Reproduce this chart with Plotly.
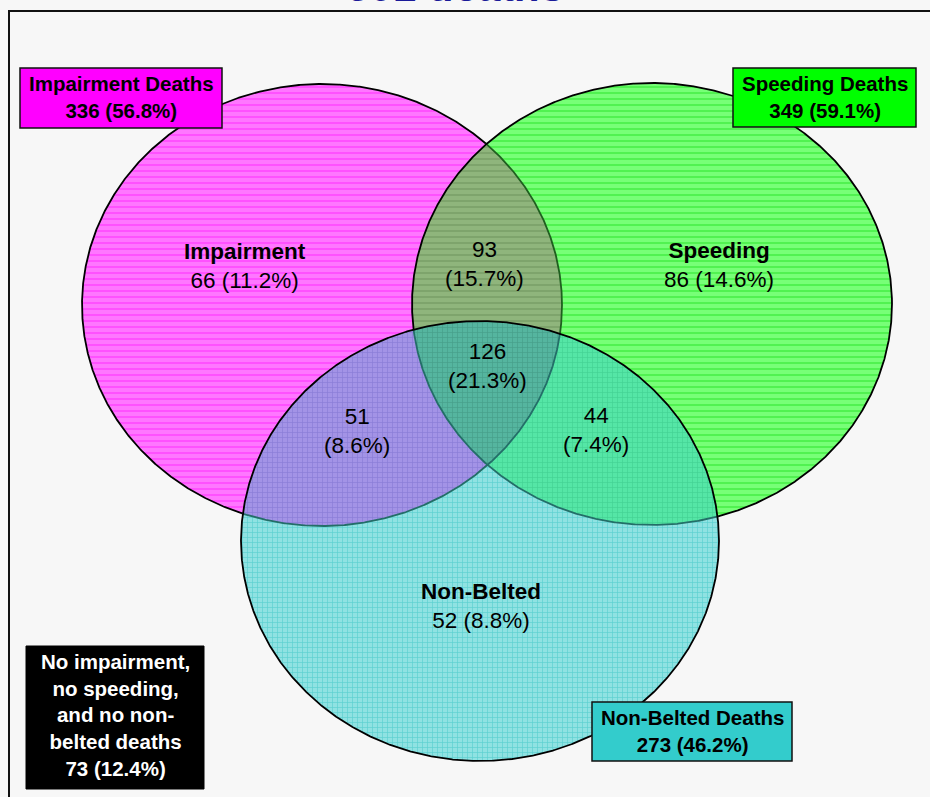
import numpy as np
import plotly.graph_objects as go

# ---------------- data ----------------
total_deaths = 591
set_names = ["Impairment", "Speeding", "Non-Belted"]
set_totals = [336, 349, 273]
set_pcts = [56.8, 59.1, 46.2]

# exclusive regions
only_counts = [66, 86, 52]          # Impairment only, Speeding only, Non-Belted only
only_pcts = [11.2, 14.6, 8.8]
pair_names = ["Impairment & Speeding", "Impairment & Non-Belted", "Speeding & Non-Belted"]
pair_counts = [93, 51, 44]
pair_pcts = [15.7, 8.6, 7.4]
all_count = 126
all_pct = 21.3
none_count = 73
none_pct = 12.4

# ---------------- layout constants (pixels) ----------------
W, H = 930, 797
BG = "#f7f7f7"
ellipses = [  # cx, cy, rx, ry
    (322, 305, 240, 221),
    (652, 304, 240, 221),
    (480, 541, 239, 220),
]
set_bg = ["#ff77ff", "#77ff77", "#8fe2e2"]
set_fg = ["#ff44ff", "#44ee44", "#5cd0d0"]
set_shape = ["-", "-", "+"]
pair_bg = ["#8fb57c", "#a393e6", "#55e6a6"]
pair_fg = ["#789f66", "#8a7cd6", "#44d294"]
all_bg, all_fg = "#55b59f", "#469f8a"
box_fill = ["#ff00ff", "#00ff00", "#33cccc"]
boxes = [(20, 68, 222, 128), (733, 68, 916, 127), (592, 702, 792, 761)]
none_box = (26, 646, 204, 789)
only_label_pos = [(245, 266), (719, 265), (481, 606)]
pair_label_pos = [(484, 264), (357, 431), (596, 430)]
all_label_pos = (487, 366)
FONT = "Arial, Liberation Sans, sans-serif"


def ell_pts(e, n=1440):
    cx, cy, rx, ry = e
    t = np.linspace(0, 2 * np.pi, n, endpoint=False)
    return cx + rx * np.cos(t), cy + ry * np.sin(t)


def inside(x, y, e):
    cx, cy, rx, ry = e
    return ((x - cx) / rx) ** 2 + ((y - cy) / ry) ** 2 <= 1.0


def intersection(idx):
    xs, ys = [], []
    for i in idx:
        x, y = ell_pts(ellipses[i])
        m = np.ones_like(x, dtype=bool)
        for j in idx:
            if j != i:
                m &= inside(x, y, ellipses[j])
        xs.append(x[m]); ys.append(y[m])
    x = np.concatenate(xs); y = np.concatenate(ys)
    a = np.arctan2(y - y.mean(), x - x.mean())
    o = np.argsort(a)
    x, y = x[o], y[o]
    return np.append(x, x[0]), np.append(y, y[0])


fig = go.Figure()


def add_fill(x, y, bg, fg, shape, size):
    fig.add_trace(go.Scatter(
        x=x, y=y, mode="lines", fill="toself", line=dict(width=0, color=bg),
        fillcolor=bg,
        fillpattern=dict(shape=shape, bgcolor=bg, fgcolor=fg, size=size, solidity=0.25, fillmode="replace"),
        hoverinfo="skip", showlegend=False))


# set fills
for i, e in enumerate(ellipses):
    x, y = ell_pts(e)
    add_fill(np.append(x, x[0]), np.append(y, y[0]), set_bg[i], set_fg[i], set_shape[i], 6 if i < 2 else 5)

# pairwise overlaps
pairs = [(0, 1), (0, 2), (1, 2)]
for k, p in enumerate(pairs):
    x, y = intersection(p)
    add_fill(x, y, pair_bg[k], pair_fg[k], "-" if k == 0 else "+", 6 if k == 0 else 5)

# triple overlap
x, y = intersection((0, 1, 2))
add_fill(x, y, all_bg, all_fg, "+", 5)

# outlines: black outside later layers, tinted inside
tints = {None: "#000000", 1: "#1f5f1f", 2: "#236e68"}
for i, e in enumerate(ellipses):
    x, y = ell_pts(e)
    x = np.append(x, x[0]); y = np.append(y, y[0])
    cat = np.array([None] * len(x), dtype=object)
    for j in range(i + 1, 3):
        cat[inside(x, y, ellipses[j])] = j
    for c, col in tints.items():
        m = np.array([cc == c for cc in cat])
        m2 = m | np.roll(m, 1) | np.roll(m, -1)
        xx = np.where(m2, x, np.nan); yy = np.where(m2, y, np.nan)
        if m.any():
            fig.add_trace(go.Scatter(x=xx, y=yy, mode="lines", line=dict(color=col, width=1.8),
                                     connectgaps=False, hoverinfo="skip", showlegend=False))

# frame
fig.add_shape(type="path", path=f"M 9 {H+10} L 9 11 L {W+10} 11", line=dict(color="#111111", width=2), layer="above")

annotations = []
# region labels
for i in range(3):
    annotations.append(dict(x=only_label_pos[i][0], y=only_label_pos[i][1],
                            text=f"<b>{set_names[i]}</b><br>{only_counts[i]} ({only_pcts[i]:.1f}%)",
                            font=dict(size=22.5, color="#000000", family=FONT)))
for k in range(3):
    annotations.append(dict(x=pair_label_pos[k][0], y=pair_label_pos[k][1],
                            text=f"{pair_counts[k]}<br>({pair_pcts[k]:.1f}%)",
                            font=dict(size=22.5, color="#000000", family=FONT)))
annotations.append(dict(x=all_label_pos[0], y=all_label_pos[1],
                        text=f"{all_count}<br>({all_pct:.1f}%)",
                        font=dict(size=22.5, color="#000000", family=FONT)))

# set total boxes
for i in range(3):
    x0, y0, x1, y1 = boxes[i]
    fig.add_shape(type="rect", x0=x0, y0=y0, x1=x1, y1=y1, fillcolor=box_fill[i],
                  line=dict(color="#111111", width=1.5), layer="above")
    annotations.append(dict(x=(x0 + x1) / 2, y=(y0 + y1) / 2 - 1,
                            text=f"<b>{set_names[i]} Deaths<br>{set_totals[i]} ({set_pcts[i]:.1f}%)</b>",
                            font=dict(size=20.5, color="#000000", family=FONT)))

# none box
x0, y0, x1, y1 = none_box
fig.add_shape(type="rect", x0=x0, y0=y0, x1=x1, y1=y1, fillcolor="#000000",
              line=dict(color="#000000", width=1), layer="above")
annotations.append(dict(x=(x0 + x1) / 2, y=(y0 + y1) / 2 - 3,
                        text=f"<b>No impairment,<br>no speeding,<br>and no non-<br>belted deaths<br>{none_count} ({none_pct:.1f}%)</b>",
                        font=dict(size=20.5, color="#ffffff", family=FONT)))

# title (cut off at the top, as in the reference)
annotations.append(dict(x=456, y=12, yanchor="bottom",
                        text=f"<b><i>{total_deaths} deaths</i></b>",
                        font=dict(size=42, color="#1a1a99", family=FONT)))

for a in annotations:
    a.setdefault("xref", "x"); a.setdefault("yref", "y")
    a.setdefault("showarrow", False); a.setdefault("align", "center")
    a.setdefault("xanchor", "center"); a.setdefault("yanchor", "middle")
fig.update_layout(annotations=annotations)

fig.update_layout(
    width=W, height=H, margin=dict(l=0, r=0, t=0, b=0),
    paper_bgcolor=BG, plot_bgcolor=BG, showlegend=False,
    xaxis=dict(range=[0, W], visible=False, fixedrange=True),
    yaxis=dict(range=[H, 0], visible=False, fixedrange=True),
)

fig.write_html("out.html", config={"displayModeBar": False},
               post_script="document.body.style.margin='0';")
